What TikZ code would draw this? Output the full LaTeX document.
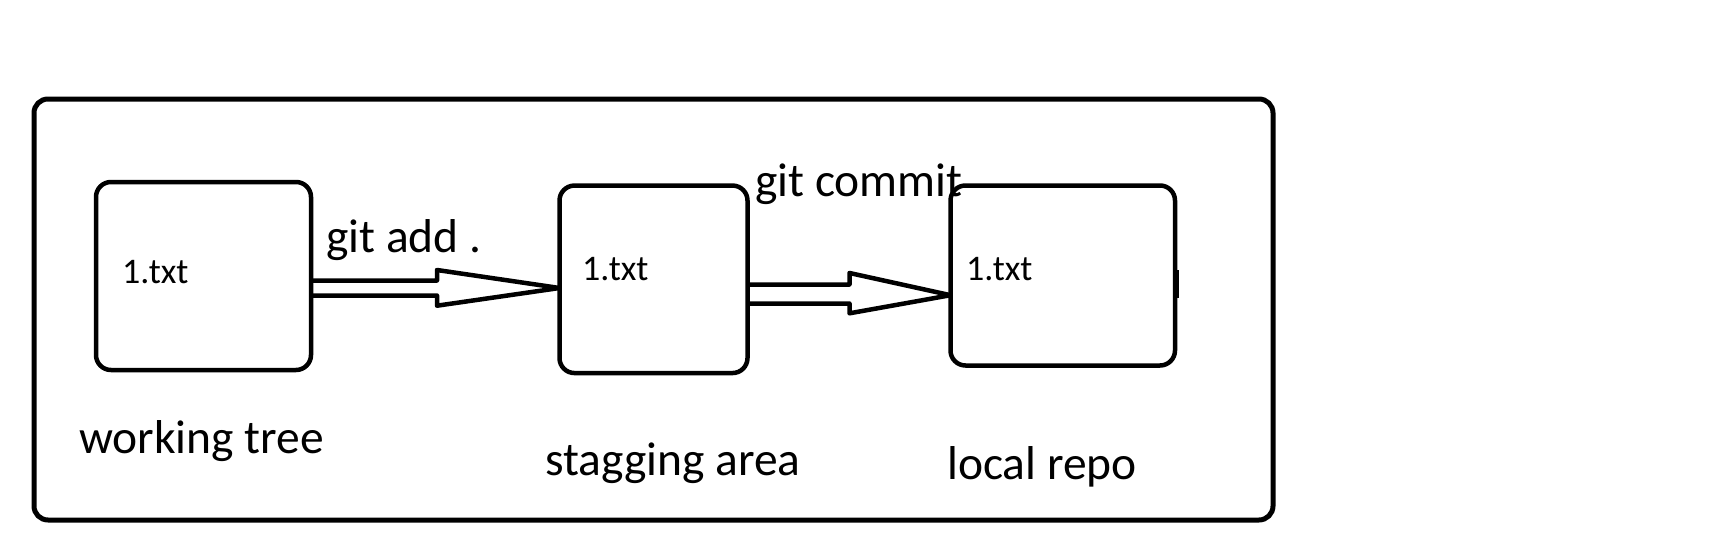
\documentclass[tikz,border=0pt]{standalone}
\usepackage{fontspec}
\setmainfont{Carlito}
\begin{document}
\begin{tikzpicture}[x=1pt,y=-1pt,
  frame/.style={draw,line width=5pt,rounded corners=14pt},
  filebox/.style={draw,line width=4.5pt,rounded corners=15pt,inner sep=0pt,outer sep=0pt},
  arrowline/.style={draw,line width=4.5pt,line join=round},
  lbl/.style={inner sep=0pt,anchor=base west,font=\fontsize{47.5}{57}\selectfont},
  ftxt/.style={inner sep=0pt,anchor=base west,font=\fontsize{36}{43}\selectfont}]
\useasboundingbox (0,0) rectangle (1717,546);
\draw[frame] (34,99) rectangle (1273,520);
\node[filebox,minimum width=215pt,minimum height=188pt] (b1) at (203.5,276) {};
\node[filebox,minimum width=188pt,minimum height=187.5pt] (b2) at (653.5,279.3) {};
\node[filebox,minimum width=224.5pt,minimum height=180pt] (b3) at (1062.75,275.5) {};
\draw[line width=2pt] (1178,270) -- (1178,298);
\draw[arrowline] (b1.east |- 0,280.5) -- (437,280.5) -- (437,270) -- (b2.west |- 0,288) -- (437,305.7) -- (437,295.5) -- (b1.east |- 0,295.5);
\draw[arrowline] (b2.east |- 0,284.5) -- (849.5,284.5) -- (849.5,273) -- (b3.west |- 0,295.2) -- (849.5,313.3) -- (849.5,303.5) -- (b2.east |- 0,303.5);
\node[ftxt] (t1) at (122,283) {1.txt};
\node[ftxt] (t2) at (582,280) {1.txt};
\node[ftxt] (t3) at (966,280) {1.txt};
\node[lbl] (l1) at (79,453) {working tree};
\node[lbl] (l2) at (545,475) {stagging area};
\node[lbl] (l3) at (947,479) {local repo};
\node[lbl] (add) at (326,252) {git add .};
\node[lbl] (commit) at (755,196) {git commit};
\end{tikzpicture}
\end{document}
